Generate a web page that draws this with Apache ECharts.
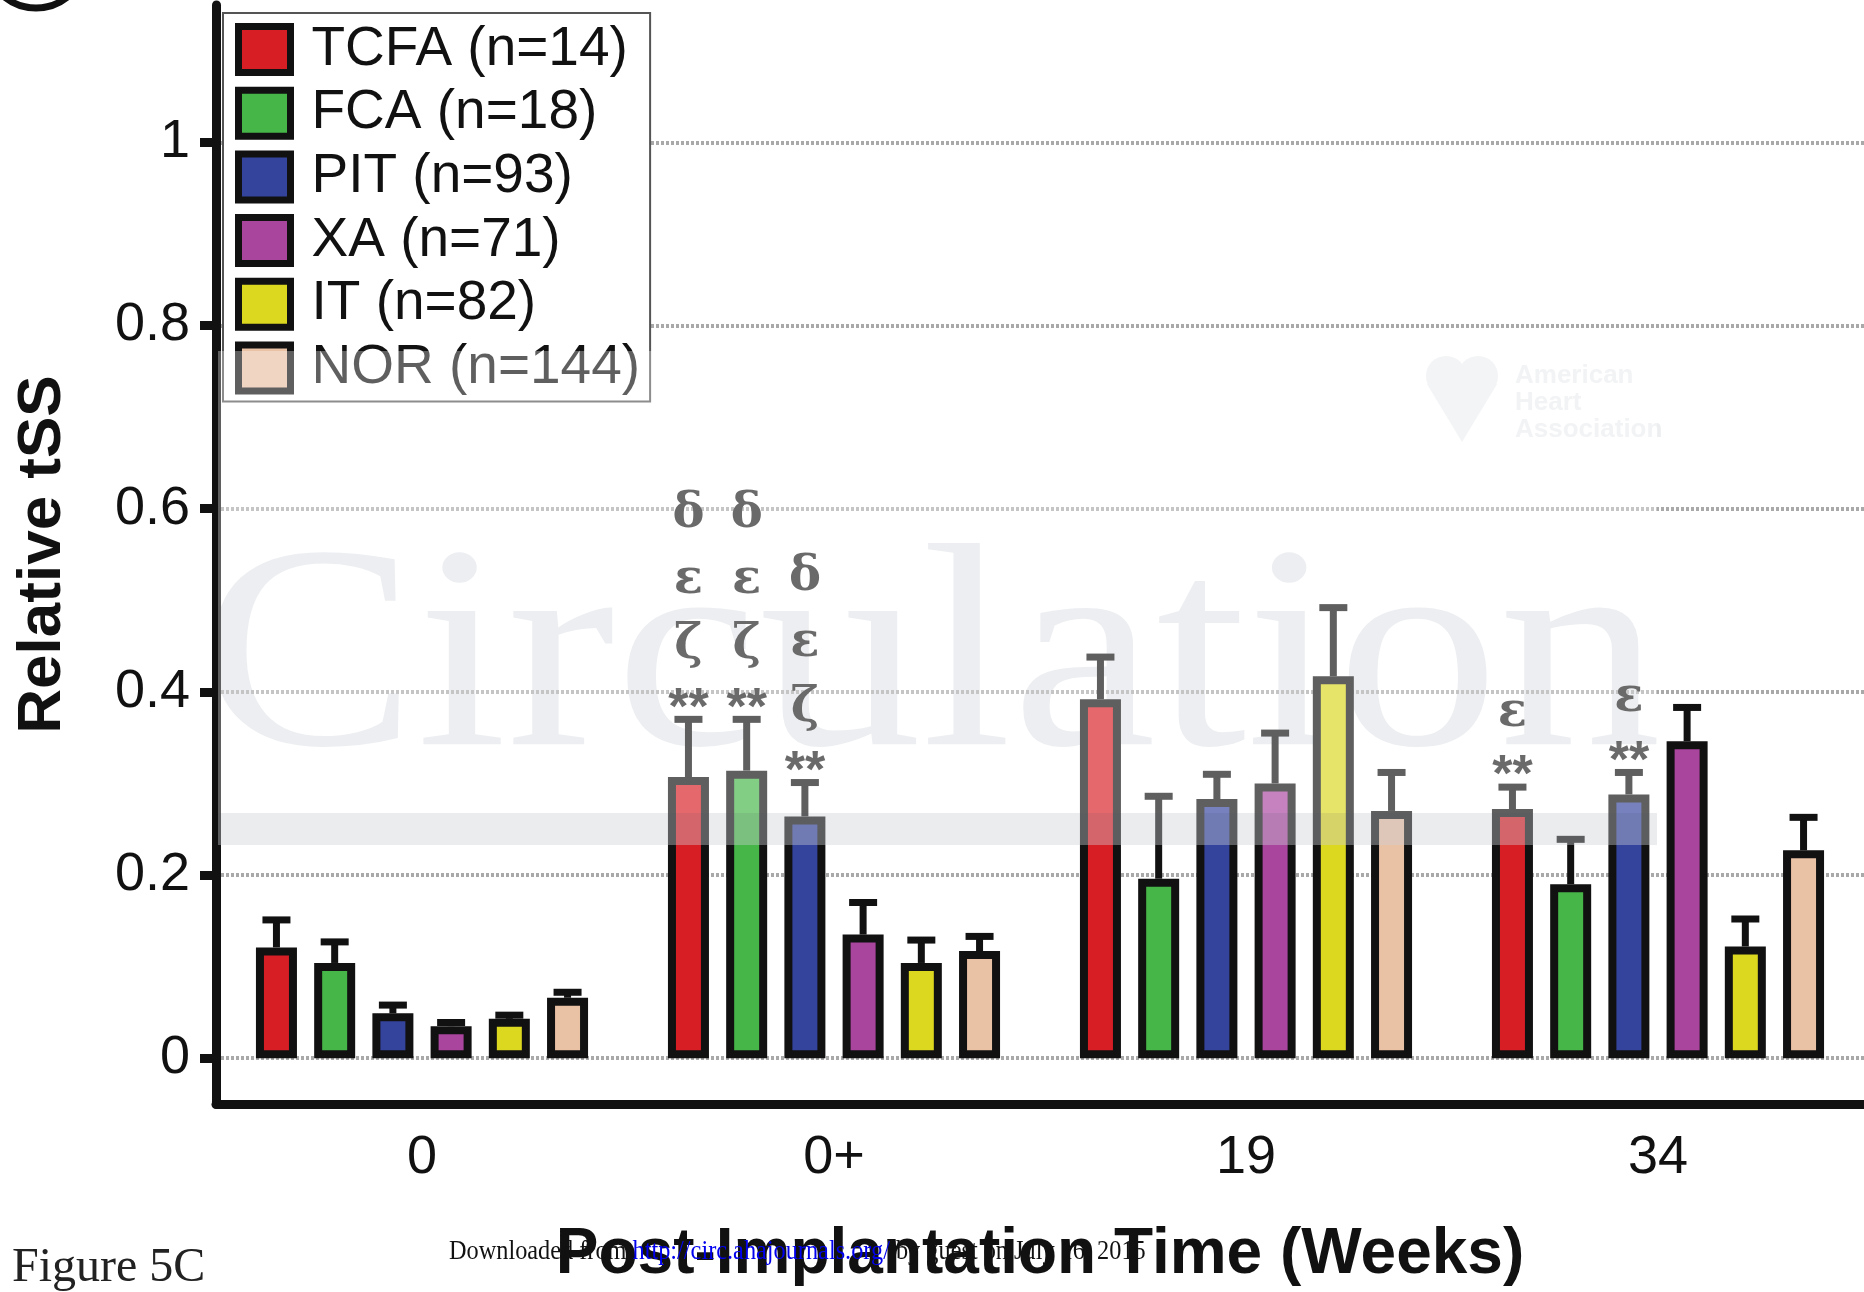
<!DOCTYPE html>
<html>
<head>
<meta charset="utf-8">
<script src="https://cdn.jsdelivr.net/npm/echarts@6/dist/echarts.min.js"></script>
<style>
html,body{margin:0;padding:0;background:#ffffff;}
#chart{width:1864px;height:1292px;}
</style>
</head>
<body>
<div id="chart"></div>
<script>
// ---------------- data ----------------
const categories = ['0', '0+', '19', '34'];
const groupNames = ['TCFA (n=14)', 'FCA (n=18)', 'PIT (n=93)', 'XA (n=71)', 'IT (n=82)', 'NOR (n=144)'];
const groupColors = ['#d81e25', '#47b649', '#34449d', '#aa459e', '#dcd820', '#e9c1a5'];

const tcfaMean = [0.121, 0.307, 0.392, 0.272];
const fcaMean  = [0.104, 0.314, 0.196, 0.190];
const pitMean  = [0.049, 0.264, 0.283, 0.288];
const xaMean   = [0.035, 0.135, 0.300, 0.346];
const itMean   = [0.043, 0.104, 0.417, 0.122];
const norMean  = [0.066, 0.117, 0.270, 0.227];

const tcfaErr = [0.030, 0.063, 0.046, 0.024];
const fcaErr  = [0.023, 0.056, 0.090, 0.049];
const pitErr  = [0.009, 0.037, 0.027, 0.024];
const xaErr   = [0.004, 0.035, 0.055, 0.037];
const itErr   = [0.004, 0.025, 0.075, 0.030];
const norErr  = [0.006, 0.016, 0.042, 0.036];

// significance marks, listed top to bottom, '|' separates stacked rows
const tcfaMarks = ['', 'δ|ε|ζ|**', '', 'ε|**'];
const fcaMarks  = ['', 'δ|ε|ζ|**', '', ''];
const pitMarks  = ['', 'δ|ε|ζ|**', '', 'ε|**'];
const xaMarks   = ['', '', '', ''];
const itMarks   = ['', '', '', ''];
const norMarks  = ['', '', '', ''];

const yTickValues = [0, 0.2, 0.4, 0.6, 0.8, 1];

const means = [tcfaMean, fcaMean, pitMean, xaMean, itMean, norMean];
const errs  = [tcfaErr, fcaErr, pitErr, xaErr, itErr, norErr];
const marks = [tcfaMarks, fcaMarks, pitMarks, xaMarks, itMarks, norMarks];

// ---------------- style constants ----------------
const BAR_W = 41;
const BAR_GAP = 0.42;
const INK = '#111111';
const SANS = '"Liberation Sans", Arial, sans-serif';
const SERIF = '"Liberation Serif", "Times New Roman", serif';
const GREEK = '"DejaVu Serif", "Liberation Serif", serif';
const ROW_OFFSETS = [22, 82, 147, 213];

const chart = echarts.init(document.getElementById('chart'), null, {renderer: 'canvas'});

const barSeries = groupNames.map((name, k) => ({
  type: 'bar',
  name: name,
  data: means[k],
  barWidth: BAR_W,
  barGap: (BAR_GAP * 100) + '%',
  z: 2,
  itemStyle: {color: groupColors[k], borderColor: INK, borderWidth: 8},
  emphasis: {disabled: true},
  animation: false
}));

const errSeries = groupNames.map((name, k) => ({
  type: 'custom',
  name: name + ' err',
  z: 4,
  silent: true,
  animation: false,
  data: means[k].map((m, i) => [i, m, m + errs[k][i]]),
  encode: {x: 0, y: [1, 2]},
  renderItem: function (params, api) {
    const c = api.value(0), m = api.value(1), t = api.value(2);
    const p0 = api.coord([c, m]);
    const p1 = api.coord([c, t]);
    const step = BAR_W * (1 + BAR_GAP);
    const x = p0[0] + (k - 2.5) * step;
    const children = [
      {type: 'line', shape: {x1: x, y1: p0[1], x2: x, y2: p1[1]}, style: {stroke: INK, lineWidth: 7}},
      {type: 'line', shape: {x1: x - 14, y1: p1[1], x2: x + 14, y2: p1[1]}, style: {stroke: INK, lineWidth: 7}}
    ];
    const ann = marks[k][params.dataIndex];
    if (ann) {
      const rows = ann.split('|').reverse();
      rows.forEach((r, j) => {
        const isStar = r.indexOf('*') >= 0;
        children.push({
          type: 'text',
          style: {
            x: x,
            y: p1[1] - ROW_OFFSETS[j] + (isStar ? 12 : 8),
            text: r,
            fontSize: isStar ? 52 : 48,
            fontWeight: 'bold',
            fontFamily: isStar ? SANS : GREEK,
            fill: '#222222',
            align: 'center',
            verticalAlign: 'middle'
          }
        });
      });
    }
    return {type: 'group', children: children};
  }
}));

const option = {
  backgroundColor: '#ffffff',
  animation: false,
  grid: {left: 216, right: 0, top: 5, bottom: 184, containLabel: false},
  legend: {
    data: groupNames,
    orient: 'vertical',
    left: 223,
    top: 13,
    padding: [9, 10, 6, 12],
    itemWidth: 52,
    itemHeight: 46,
    itemGap: 8.7,
    icon: 'rect',
    backgroundColor: '#ffffff',
    borderColor: '#555555',
    borderWidth: 2,
    borderRadius: 0,
    selectedMode: false,
    itemStyle: {borderColor: INK, borderWidth: 7},
    textStyle: {fontSize: 55, lineHeight: 55, color: INK, fontFamily: SANS, padding: [0, 0, 0, 16]}
  },
  xAxis: {
    type: 'category',
    data: categories,
    name: 'Post-Implantation Time (Weeks)',
    nameLocation: 'middle',
    nameGap: 119,
    nameTextStyle: {fontSize: 64, fontWeight: 'bold', color: INK, fontFamily: SANS},
    axisLine: {onZero: false, lineStyle: {color: INK, width: 9}},
    axisTick: {alignWithLabel: true, length: 17, lineStyle: {color: INK, width: 9}},
    axisLabel: {fontSize: 54, color: INK, fontFamily: SANS, margin: 27},
    splitLine: {show: false}
  },
  yAxis: {
    type: 'value',
    min: -0.05,
    max: 1.15,
    name: 'Relative tSS',
    nameLocation: 'middle',
    nameGap: 142,
    nameTextStyle: {fontSize: 62, fontWeight: 'bold', color: INK, fontFamily: SANS},
    axisLine: {show: true, lineStyle: {color: INK, width: 9}},
    axisTick: {show: true, customValues: yTickValues, length: 16, lineStyle: {color: INK, width: 9}},
    axisLabel: {
      customValues: yTickValues,
      fontSize: 54, color: INK, fontFamily: SANS, margin: 26,
      formatter: v => String(parseFloat(Number(v).toFixed(2)))
    },
    splitLine: {show: true, lineStyle: {color: '#a9a9a9', width: 4, type: [3, 2]}}
  },
  series: barSeries.concat(errSeries),
  graphic: {
    elements: [
      // journal watermark (behind the chart)
      {type: 'text', x: 200, y: 668, scaleX: 1.12, z: -10, silent: true,
       style: {text: 'Circulation', font: '290px ' + SERIF, fill: '#e3e6ea', align: 'left', verticalAlign: 'middle'}},
      {type: 'circle', z: -10, silent: true, shape: {cx: 1446, cy: 376, r: 20}, style: {fill: '#edeff1'}},
      {type: 'circle', z: -10, silent: true, shape: {cx: 1478, cy: 376, r: 20}, style: {fill: '#edeff1'}},
      {type: 'polygon', z: -10, silent: true,
       shape: {points: [[1427, 384], [1497, 384], [1462, 442]]}, style: {fill: '#edeff1'}},
      {type: 'text', x: 1515, y: 376, z: -10, silent: true,
       style: {text: 'American', font: 'bold 26px ' + SANS, fill: '#eceef0', verticalAlign: 'middle'}},
      {type: 'text', x: 1515, y: 403, z: -10, silent: true,
       style: {text: 'Heart', font: 'bold 26px ' + SANS, fill: '#eceef0', verticalAlign: 'middle'}},
      {type: 'text', x: 1515, y: 430, z: -10, silent: true,
       style: {text: 'Association', font: 'bold 26px ' + SANS, fill: '#eceef0', verticalAlign: 'middle'}},
      // translucent watermark veil and band (over the chart)
      {type: 'rect', z: 100, silent: true, shape: {x: 218, y: 351, width: 1439, height: 462},
       style: {fill: 'rgba(255,255,255,0.33)'}},
      {type: 'rect', z: 100, silent: true, shape: {x: 218, y: 813, width: 1439, height: 32},
       style: {fill: 'rgba(205,208,213,0.40)'}},
      // panel letter ring (cut off at top)
      {type: 'circle', z: 100, silent: true, shape: {cx: 36, cy: -42, r: 50},
       style: {fill: 'none', stroke: INK, lineWidth: 7}},
      // figure label and download note
      {type: 'text', x: 12, y: 1268, z: 100, silent: true,
       style: {text: 'Figure 5C', font: '48px ' + SERIF, fill: '#222222', align: 'left', verticalAlign: 'middle'}},
      {type: 'text', x: 449, y: 1252, scaleX: 0.9, z: 110, silent: true,
       style: {
         text: '{a|Downloaded from }{b|http://circ.ahajournals.org/}{a| by guest on July 16, 2015}',
         font: '27px ' + SERIF,
         align: 'left', verticalAlign: 'middle',
         rich: {
           a: {fill: '#111111', font: '27px ' + SERIF},
           b: {fill: '#0000ee', font: '27px ' + SERIF}
         }
       }}
    ]
  }
};

chart.setOption(option);
</script>
</body>
</html>
